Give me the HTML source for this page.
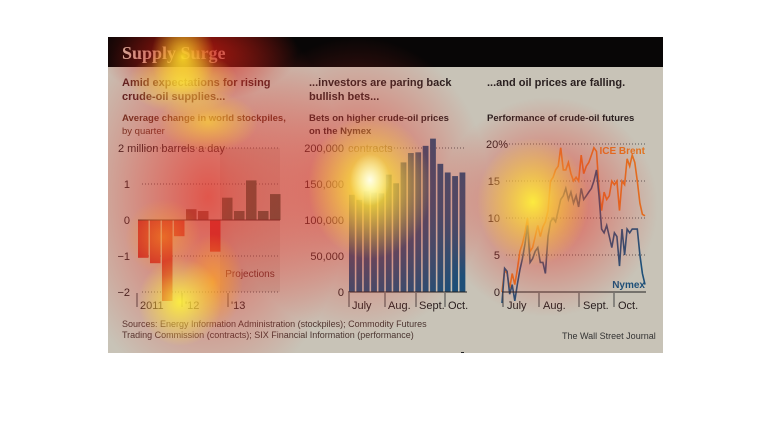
<!DOCTYPE html>
<html><head><meta charset="utf-8"><style>
body{margin:0;width:770px;height:448px;background:#fff;overflow:hidden;font-family:"Liberation Sans",sans-serif}
#pic{position:absolute;left:108px;top:37px;width:555px;height:316px;background:#c8c3b7;overflow:hidden}
#hdr{position:absolute;left:0;top:0;width:555px;height:30px;background:#080606}
.t{position:absolute;white-space:nowrap;color:#2a2020}
svg{position:absolute;left:0;top:0}
#heat{position:absolute;left:0;top:0;width:555px;height:316px;pointer-events:none;
background:
radial-gradient(ellipse 20px 26px at 262px 143px,rgba(255,255,240,.95),rgba(255,255,120,0) 100%),
radial-gradient(ellipse 62px 72px at 262px 150px,rgba(255,250,60,.95),rgba(255,240,40,0) 100%),
radial-gradient(ellipse 56px 64px at 425px 165px,rgba(255,245,60,.92),rgba(255,240,40,0) 100%),
radial-gradient(ellipse 42px 44px at 72px 265px,rgba(255,245,60,.9),rgba(255,240,40,0) 100%),
radial-gradient(ellipse 32px 40px at 75px 20px,rgba(255,230,40,.85),rgba(255,200,30,0) 100%),
radial-gradient(ellipse 55px 32px at 75px 45px,rgba(255,240,60,.75),rgba(255,220,40,0) 100%),
radial-gradient(ellipse 50px 30px at 100px 85px,rgba(255,220,50,.65),rgba(255,210,40,0) 100%),
radial-gradient(ellipse 30px 48px at 105px 245px,rgba(255,160,30,.7),rgba(255,150,30,0) 100%),
radial-gradient(ellipse 38px 38px at 55px 200px,rgba(255,170,40,.5),rgba(255,150,30,0) 100%),
radial-gradient(ellipse 140px 200px at 100px 160px,rgba(232,50,40,.75),rgba(232,50,40,0) 100%),
radial-gradient(ellipse 130px 150px at 250px 150px,rgba(232,50,40,.7),rgba(232,50,40,0) 100%),
radial-gradient(ellipse 110px 110px at 440px 170px,rgba(232,50,40,.7),rgba(232,50,40,0) 100%),
radial-gradient(ellipse 100px 50px at 90px 15px,rgba(200,20,10,.75),rgba(200,20,10,0) 100%);}
</style></head><body>
<div id="pic">
<div id="hdr"></div>
<div class="t" style="left:14px;top:6px;font:bold 18px 'Liberation Serif',serif;color:#d8c8b8">Supply Surge</div>
<div class="t" style="left:14px;top:39px;font:bold 11px/14px 'Liberation Sans';color:#4a2020">Amid expectations for rising<br>crude-oil supplies...</div>
<div class="t" style="left:201px;top:39px;font:bold 11px/14px 'Liberation Sans'">...investors are paring back<br>bullish bets...</div>
<div class="t" style="left:379px;top:39px;font:bold 11px/14px 'Liberation Sans'">...and oil prices are falling.</div>
<div class="t" style="left:14px;top:75px;font:bold 9.5px/13px 'Liberation Sans';color:#5a3020">Average change in world stockpiles,<br><span style="font-weight:normal">by quarter</span></div>
<div class="t" style="left:201px;top:75px;font:bold 9.5px/13px 'Liberation Sans'">Bets on higher crude-oil prices<br>on the Nymex</div>
<div class="t" style="left:379px;top:75px;font:bold 9.5px/13px 'Liberation Sans'">Performance of crude-oil futures</div>
<div class="t" style="left:14px;top:282px;font:9px/11px 'Liberation Sans';color:#4a3530">Sources: Energy Information Administration (stockpiles); Commodity Futures<br>Trading Commission (contracts); SIX Financial Information (performance)</div>
<div class="t" style="left:454px;top:294px;font:9px 'Liberation Sans';color:#333">The Wall Street Journal</div>
<svg id="c" width="555" height="316"></svg>
<div id="heat"></div>
</div>
<div style="position:absolute;left:461px;top:352px;width:3px;height:1px;background:#222"></div>
<script>
const stockQuarters=["Q1-11","Q2-11","Q3-11","Q4-11","Q1-12","Q2-12","Q3-12","Q4-12","Q1-13","Q2-13","Q3-13","Q4-13"];
const stockValues=[-1.05,-1.2,-2.25,-0.45,0.3,0.25,-0.88,0.62,0.25,1.1,0.25,0.72];
const stockTicks=[2,1,0,-1,-2];
const contractWeeks=["J1","J2","J3","J4","J5","A1","A2","A3","A4","S1","S2","S3","S4","O1","O2","O3"];
const contractValues=[135,128,140,138,137,163,151,180,193,194,203,213,178,166,161,166];
const contractTicks=[0,50,100,150,200];
const brentValues=[0,3,2.5,0.5,2.5,1,3,5.5,6.5,8,10,5.5,6,7.5,9,7.5,8.8,9.5,11,15,15.5,16.5,17,19.5,16.5,16.5,17.5,16,15,15.5,15,18.5,16,17,17.5,18.5,19.5,19,14,11,13.5,12.5,13,15,14.5,15,11,15,14.5,18,17,18.5,17.5,15,12,10.5,10.3];
const nymexValues=[-1.5,3.2,2.8,-0.3,1,-1.2,1,3,4.5,6.5,9,4,4.5,5.5,6,4,4,2.5,7.5,9.5,10,9.5,11,12.5,13,14,12.5,13.5,12,13,11.5,14,12.5,13,13.5,14,15,16.5,13,8.5,8,9,7.5,6,8,7.5,3.5,8.5,5,8.5,8,8.5,8.5,8.5,5,2.5,1];
const priceTicks=[0,5,10,15,20];
const svg=document.getElementById('c');const NS='http://www.w3.org/2000/svg';
function mk(t,a,p){const e=document.createElementNS(NS,t);for(const k in a)e.setAttribute(k,a[k]);(p||svg).appendChild(e);return e;}
function txt(x,y,s,anchor,size,col,w){const e=mk('text',{x,y,'text-anchor':anchor||'start','font-size':size||10,fill:col||'#2a2020','font-family':'Liberation Sans','font-weight':w||'normal'});e.textContent=s;return e;}
// panel 1
const y1=v=>183-v*36, x1=i=>30+i*12;
mk('rect',{x:112,y:111,width:60,height:144,fill:'rgba(120,100,90,0.15)'});
stockTicks.forEach(v=>{const l=mk('line',{x1:34,x2:172,y1:y1(v),y2:y1(v),stroke:'#555','stroke-dasharray':'1,2'});
 const t=txt(22,y1(v)+4,v===2?'2 million barrels a day':(v<0?'\u2212'+(-v):String(v)),v===2?'start':'end',11);if(v===2)t.setAttribute('x',10);});
stockValues.forEach((v,i)=>{const b=mk('rect',{x:x1(i),y:Math.min(y1(v),y1(0)),width:10.5,height:Math.abs(y1(v)-y1(0)),fill:v<0?'#c0282a':(i>=7?'#2e5a45':'#6a4a3a')});});
mk('line',{x1:30,x2:172,y1:y1(0),y2:y1(0),stroke:'#222'});
txt(142,240,'Projections','middle',10,'#5a2a25');
[['2011',32],["'12",77],["'13",123]].forEach(a=>{mk('line',{x1:a[1]-3,x2:a[1]-3,y1:256,y2:270,stroke:'#444'});const t=txt(a[1],272,a[0],'start',11);});
// panel 2
const y2=v=>255-v*0.72, x2=i=>241+i*7.37;
contractTicks.forEach(v=>{if(v===200)mk('line',{x1:241,x2:358,y1:y2(v),y2:y2(v),stroke:'#555','stroke-dasharray':'1,2'});
 const t=txt(236,y2(v)+4,v===0?'0':(v+',000'),'end',11);});
txt(240,y2(200)+4,'contracts','start',11,'#7a6a40');
contractValues.forEach((v,i)=>{const b=mk('rect',{x:x2(i),y:y2(v),width:5.8,height:y2(0)-y2(v),fill:'#1d4f78'});});
mk('line',{x1:240,x2:359,y1:y2(0),y2:y2(0),stroke:'#222'});
[['July',241],['Aug.',277],['Sept.',308],['Oct.',337]].forEach(a=>{mk('line',{x1:a[1],x2:a[1],y1:256,y2:270,stroke:'#444'});const t=txt(a[1]+3,272,a[0],'start',11);});
// panel 3
const y3=v=>255-v*7.4, x3=i=>394+i*(143/(brentValues.length-1));
priceTicks.forEach(v=>{if(v>0)mk('line',{x1:398,x2:538,y1:y3(v),y2:y3(v),stroke:'#555','stroke-dasharray':'1,2'});
 const t=txt(v===20?378:392,y3(v)+4,v===20?'20%':String(v),v===20?'start':'end',11);});
const line=(vals,col,name)=>{const p=mk('path',{d:vals.map((v,i)=>(i?'L':'M')+x3(i).toFixed(1)+','+y3(v).toFixed(1)).join(''),fill:'none',stroke:col,'stroke-width':1.6});};
line(brentValues,'#e2721e','brent-line');line(nymexValues,'#1d4f78','nymex-line');
mk('line',{x1:394,x2:538,y1:y3(0),y2:y3(0),stroke:'#222'});
txt(537,117,'ICE Brent','end',10,'#e2721e','bold');txt(537,251,'Nymex','end',10,'#1d4f78','bold');
[['July',395],['Aug.',431],['Sept.',471],['Oct.',506]].forEach(a=>{mk('line',{x1:a[1],x2:a[1],y1:256,y2:270,stroke:'#444'});const t=txt(a[1]+4,272,a[0],'start',11);});
</script>
</body></html>
